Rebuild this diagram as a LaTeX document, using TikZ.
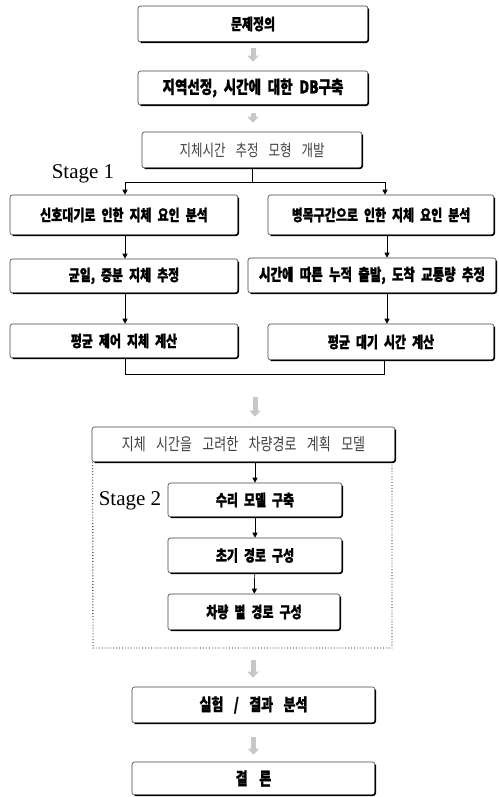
\documentclass[tikz,border=0pt]{standalone}
\usepackage{fontspec}
\setmainfont{Liberation Serif}
\newfontfamily\kr[BoldFeatures={FakeBold=1.2}]{Noto Sans CJK KR}
\usetikzlibrary{arrows.meta}
\newcommand\tx[2][0.5]{\scalebox{1}[1.3]{\spaceskip=#1em\relax #2}}
\begin{document}
\begin{tikzpicture}[x=1pt,y=-1pt,
  box/.style={draw=black!75, line width=0.6pt, rounded corners=2.5pt, inner sep=0pt,
    font=\fontsize{12}{14}\kr\bfseries},
  lite/.style={font=\fontsize{12.5}{14}\kr, text=black!75},
  con/.style={line width=0.7pt, -{Triangle[length=5pt,width=5pt]}},
  plain/.style={line width=0.7pt},
  garrow/.style={line width=5pt, draw=black!22, -{Triangle[length=6pt,width=11pt]}},
  frame/.style={line width=0.9pt, dotted},
  stage/.style={font=\fontsize{21}{24}\selectfont, inner sep=0pt}]
\useasboundingbox (0,0) rectangle (498,797);
\node[box, minimum width=230pt, minimum height=36pt] (p1) at (253,24) {\tx{문제정의}};
\node[box, minimum width=230pt, minimum height=34pt, font=\fontsize{13.5}{15}\kr\bfseries] (p2) at (253,88) {\tx{지역선정, 시간에 대한 DB구축}};
\node[box, lite, minimum width=220pt, minimum height=36pt] (p3) at (252,150) {\tx[0.8]{지체시간 추정 모형 개발}};
\node[box, minimum width=228pt, minimum height=40pt] (L1) at (124,215) {\tx{신호대기로 인한 지체 요인 분석}};
\node[box, minimum width=226pt, minimum height=40pt] (R1) at (381,215) {\tx{병목구간으로 인한 지체 요인 분석}};
\node[box, minimum width=228pt, minimum height=34pt] (L2) at (124,276) {\tx{균일, 증분 지체 추정}};
\node[box, minimum width=248pt, minimum height=35pt, font=\fontsize{12.5}{14}\kr\bfseries] (R2) at (372,275.5) {\tx{시간에 따른 누적 출발, 도착 교통량 추정}};
\node[box, minimum width=228pt, minimum height=34pt] (L3) at (124,341) {\tx{평균 제어 지체 계산}};
\node[box, minimum width=226pt, minimum height=36pt] (R3) at (381,342) {\tx{평균 대기 시간 계산}};
\node[box, lite, minimum width=303pt, minimum height=35pt, font=\fontsize{13}{15}\kr] (s2) at (243.5,444.5) {\tx[0.8]{지체 시간을 고려한 차량경로 계획 모델}};
\node[box, minimum width=174pt, minimum height=34pt] (m1) at (255,500) {\tx{수리 모델 구축}};
\node[box, minimum width=174pt, minimum height=35pt] (m2) at (255,555.5) {\tx{초기 경로 구성}};
\node[box, minimum width=172pt, minimum height=36pt] (m3) at (254,612) {\tx{차량 별 경로 구성}};
\node[box, minimum width=243pt, minimum height=36pt, font=\fontsize{13}{15}\kr\bfseries] (e1) at (253.5,705) {\tx[0.8]{실험 / 결과 분석}};
\node[box, minimum width=243pt, minimum height=33pt, font=\fontsize{13}{15}\kr\bfseries] (e2) at (253.5,778.5) {\tx[0.9]{결 론}};
\foreach \n in {p1,p2,p3,L1,R1,L2,R2,L3,R3,s2,m1,m2,m3,e1,e2}
  \draw[line width=1.6pt, rounded corners=2.5pt] ([yshift=-3pt]\n.north east) -- (\n.south east) -- ([xshift=3pt]\n.south west);
\node[stage, anchor=base] (st1) at (83,178) {Stage 1};
\node[stage, anchor=base] (st2) at (130,505) {Stage 2};
% connectors
\draw[plain] (p3.south) -- ++(0,14) coordinate (j);
\draw[con] (j) -| ([xshift=1pt]L1.north);
\draw[con] (j) -| ([xshift=4pt]R1.north);
\draw[con] ([xshift=1pt]L1.south) -- ([xshift=1pt]L2.north);
\draw[con] ([xshift=6pt]R1.south) -- ([xshift=6pt]R1.south |- R2.north);
\draw[con] ([xshift=1pt]L2.south) -- ([xshift=1pt]L3.north);
\draw[con] ([xshift=6pt]R1.south |- R2.south) -- ([xshift=6pt]R3.north);
\draw[plain] ([xshift=1pt]L3.south) -- ++(0,16) -| ([xshift=3pt]R3.south);
\coordinate (b) at (255,374);
\coordinate (fbl) at (93,648);
\coordinate (fbr) at (392,648);
\coordinate (fb) at (253,648);
\draw[frame] ([xshift=1pt]s2.south west) -- (fbl) -- (fbr) -- (fbr |- s2.south);
\draw[con] (s2.south -| m1.north) -- (m1.north);
\draw[con] (m1) -- (m2);
\draw[con] (m2) -- (m3);
% faint arrows
\draw[garrow, shorten <=6pt, shorten >=9pt] (p1) -- (p2);
\draw[garrow, shorten <=8pt, shorten >=9pt] (p2.south) -- (p2.south |- p3.north);
\draw[garrow, shorten <=23pt, shorten >=10pt] (b) -- (b |- s2.north);
\draw[garrow, shorten <=12pt, shorten >=9pt] (fb) -- (fb |- e1.north);
\draw[garrow, shorten <=14pt, shorten >=7pt] (e1) -- (e2);
\end{tikzpicture}
\end{document}
